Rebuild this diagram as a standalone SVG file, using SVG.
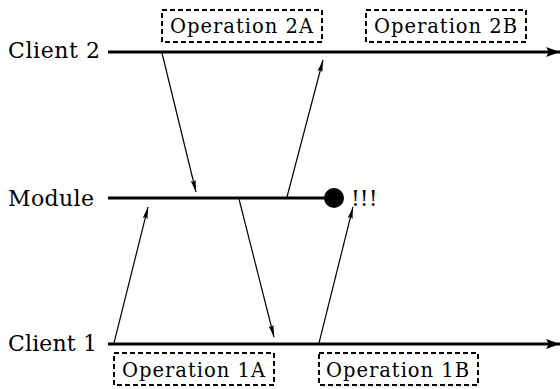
<svg xmlns="http://www.w3.org/2000/svg" width="560" height="389" viewBox="0 0 560 389">
<style>
text{font-family:"DejaVu Serif","Liberation Serif",serif;fill:#000}
.lbl{font-size:22px}
.op{font-size:19.5px}
.tl{stroke:#000;stroke-width:3;fill:none}
.msg{stroke:#000;stroke-width:1.2;fill:none;marker-end:url(#sm)}
.box{fill:none;stroke:#000;stroke-width:2;stroke-dasharray:5,3}
</style>
<defs>
<marker id="sm" viewBox="0 0 12 6" refX="12" refY="3" markerWidth="12" markerHeight="6" markerUnits="userSpaceOnUse" orient="auto"><path d="M0,0.5 L12,3 L0,5.5 L2,3 Z" fill="#000"/></marker>
<marker id="big" viewBox="0 0 14 10" refX="14" refY="5" markerWidth="14" markerHeight="10" markerUnits="userSpaceOnUse" orient="auto"><path d="M0,0 L14,5 L0,10 L3,5 Z" fill="#000"/></marker>
</defs>
<g id="client2">
<text class="lbl" x="8" y="58" textLength="92" lengthAdjust="spacing">Client 2</text>
<line class="tl" x1="108" y1="52" x2="560" y2="52" marker-end="url(#big)"/>
</g>
<g id="module">
<text class="lbl" x="8" y="206" textLength="86" lengthAdjust="spacing">Module</text>
<line class="tl" x1="108" y1="198" x2="330" y2="198"/>
<circle cx="334" cy="198" r="10" fill="#000"/>
<text class="lbl" x="351" y="206">!!!</text>
</g>
<g id="client1">
<text class="lbl" x="8" y="351" textLength="89" lengthAdjust="spacing">Client 1</text>
<line class="tl" x1="108" y1="344" x2="560" y2="344" marker-end="url(#big)"/>
</g>
<g id="op2a">
<rect class="box" x="162" y="10" width="160" height="32"/>
<text class="op" x="170" y="33" textLength="143" lengthAdjust="spacing">Operation 2A</text>
</g>
<g id="op2b">
<rect class="box" x="366" y="10" width="160" height="32"/>
<text class="op" x="374" y="33" textLength="143" lengthAdjust="spacing">Operation 2B</text>
</g>
<g id="op1a">
<rect class="box" x="114" y="353" width="160" height="32"/>
<text class="op" x="122" y="377" textLength="143" lengthAdjust="spacing">Operation 1A</text>
</g>
<g id="op1b">
<rect class="box" x="319" y="353" width="159" height="32"/>
<text class="op" x="326" y="377" textLength="143" lengthAdjust="spacing">Operation 1B</text>
</g>
<g id="connectors">
<line class="msg" x1="114" y1="343" x2="148" y2="207"/>
<line class="msg" x1="239" y1="199" x2="274" y2="337"/>
<line class="msg" x1="162" y1="53" x2="196" y2="192"/>
<line class="msg" x1="287" y1="197" x2="323" y2="60"/>
<line class="msg" x1="319" y1="343" x2="353" y2="207"/>
</g>
</svg>
